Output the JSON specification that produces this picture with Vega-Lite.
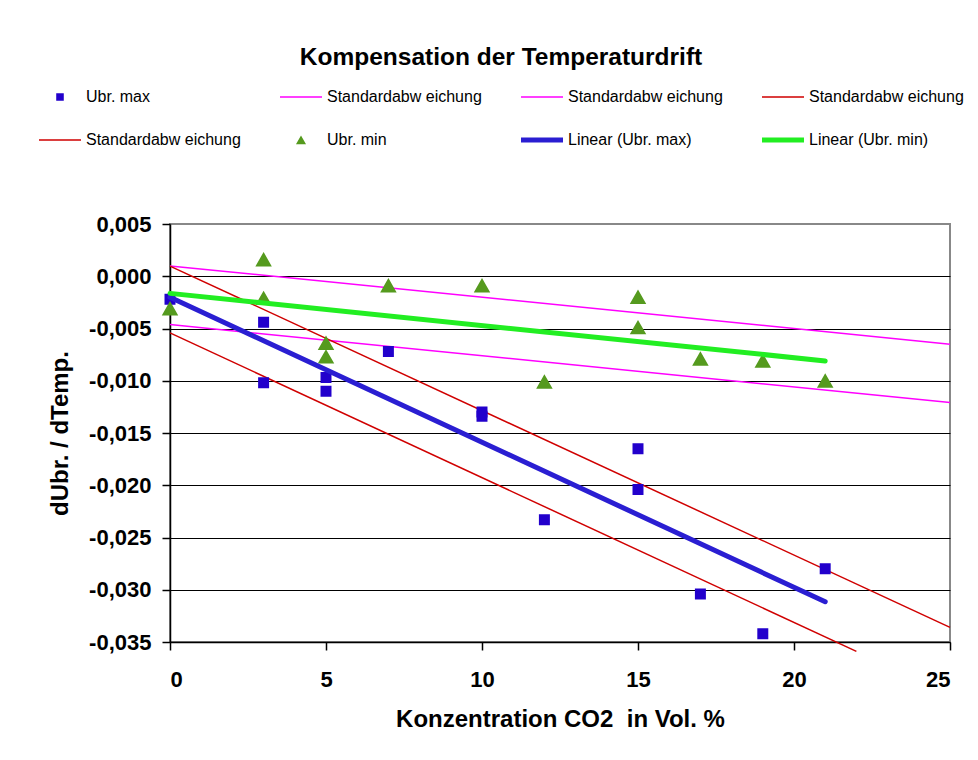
{
  "$schema": "https://vega.github.io/schema/vega-lite/v6.json",
  "autosize": {"type": "none"},
  "width": 780,
  "height": 418,
  "padding": {"left": 170, "top": 224, "right": 28, "bottom": 118},
  "background": "#ffffff",
  "title": {
    "text": "Kompensation der Temperaturdrift",
    "font": "Liberation Sans",
    "fontSize": 24.5,
    "fontWeight": "bold",
    "color": "#000000",
    "anchor": "middle",
    "frame": "group",
    "dx": -59,
    "offset": 6
  },
  "datasets": {
    "ubr": [
      {"co2": 0, "drift": -0.0022, "reihe": "max"},
      {"co2": 3, "drift": -0.0044, "reihe": "max"},
      {"co2": 3, "drift": -0.0102, "reihe": "max"},
      {"co2": 5, "drift": -0.0097, "reihe": "max"},
      {"co2": 5, "drift": -0.0110, "reihe": "max"},
      {"co2": 7, "drift": -0.0072, "reihe": "max"},
      {"co2": 10, "drift": -0.0130, "reihe": "max"},
      {"co2": 10, "drift": -0.0134, "reihe": "max"},
      {"co2": 12, "drift": -0.0233, "reihe": "max"},
      {"co2": 15, "drift": -0.0165, "reihe": "max"},
      {"co2": 15, "drift": -0.0204, "reihe": "max"},
      {"co2": 17, "drift": -0.0304, "reihe": "max"},
      {"co2": 19, "drift": -0.0342, "reihe": "max"},
      {"co2": 21, "drift": -0.0280, "reihe": "max"},
      {"co2": 0, "drift": -0.0031, "reihe": "min"},
      {"co2": 3, "drift": 0.0016, "reihe": "min"},
      {"co2": 3, "drift": -0.0021, "reihe": "min"},
      {"co2": 5, "drift": -0.0064, "reihe": "min"},
      {"co2": 5, "drift": -0.0077, "reihe": "min"},
      {"co2": 7, "drift": -0.0009, "reihe": "min"},
      {"co2": 10, "drift": -0.0009, "reihe": "min"},
      {"co2": 12, "drift": -0.0101, "reihe": "min"},
      {"co2": 15, "drift": -0.0020, "reihe": "min"},
      {"co2": 15, "drift": -0.0049, "reihe": "min"},
      {"co2": 17, "drift": -0.0079, "reihe": "min"},
      {"co2": 19, "drift": -0.0081, "reihe": "min"},
      {"co2": 21, "drift": -0.0100, "reihe": "min"}
    ],
    "stdabw_min": [
      {"co2": 0, "drift": 0.00099, "linie": "oben"},
      {"co2": 25, "drift": -0.0065, "linie": "oben"},
      {"co2": 0, "drift": -0.00462, "linie": "unten"},
      {"co2": 25, "drift": -0.01209, "linie": "unten"}
    ],
    "stdabw_max": [
      {"co2": 0, "drift": 0.00097, "linie": "oben"},
      {"co2": 25, "drift": -0.0336, "linie": "oben"},
      {"co2": 0, "drift": -0.00542, "linie": "unten"},
      {"co2": 22, "drift": -0.0359, "linie": "unten"}
    ],
    "trend_max": [
      {"co2": 0, "drift": -0.0020},
      {"co2": 21, "drift": -0.03115}
    ],
    "trend_min": [
      {"co2": 0, "drift": -0.00164},
      {"co2": 21, "drift": -0.0081}
    ]
  },
  "encoding": {
    "x": {
      "field": "co2",
      "type": "quantitative",
      "scale": {"domain": [0, 25], "nice": false, "zero": false},
      "axis": {
        "title": "Konzentration CO2\u00a0 in Vol. %",
        "values": [0, 5, 10, 15, 20, 25],
        "grid": false,
        "labelPadding": 19,
        "titlePadding": 17
      }
    },
    "y": {
      "field": "drift",
      "type": "quantitative",
      "scale": {"domain": [-0.035, 0.005], "nice": false, "zero": false},
      "axis": {
        "title": "dUbr. / dTemp.",
        "values": [-0.035, -0.03, -0.025, -0.02, -0.015, -0.01, -0.005, 0, 0.005],
        "labelExpr": "replace(replace(format(datum.value, '.3f'), '.', ','), '\u2212', '-')",
        "grid": true,
        "gridColor": {"condition": {"test": "datum.value > 0.004", "value": "#888888"}, "value": "#000000"},
        "gridWidth": 1.2,
        "labelPadding": 11,
        "titlePadding": 16
      }
    }
  },
  "layer": [
    {
      "data": {"name": "stdabw_min"},
      "mark": {"type": "line", "color": "#ff00ff", "strokeWidth": 1.5, "clip": false},
      "encoding": {"detail": {"field": "linie"}}
    },
    {
      "data": {"name": "stdabw_max"},
      "mark": {"type": "line", "color": "#d00000", "strokeWidth": 1.5, "clip": false},
      "encoding": {"detail": {"field": "linie"}}
    },
    {
      "data": {"name": "ubr"},
      "mark": {"type": "point", "filled": true, "opacity": 1, "strokeWidth": 0},
      "encoding": {
        "color": {
          "field": "reihe",
          "type": "nominal",
          "scale": {
            "domain": ["max", "sd1", "sd2", "sd3", "sd4", "min", "lin_max", "lin_min"],
            "range": ["#2200cc", "#ff00ff", "#ff00ff", "#d00000", "#d00000", "#559a1e", "#2a1ed2", "#22ee22"]
          },
          "legend": {
            "orient": "none",
            "legendX": -131,
            "legendY": -148,
            "direction": "horizontal",
            "columns": 4,
            "gridAlign": "all",
            "columnPadding": 39,
            "rowPadding": 1,
            "padding": 0,
            "title": null,
            "symbolSize": 1764,
            "symbolStrokeWidth": 0,
            "labelFont": "Liberation Sans",
            "labelFontSize": 16,
            "labelColor": "#000000",
            "labelOffset": 5,
            "labelLimit": 300,
            "labelExpr": "{'max': 'Ubr. max', 'sd1': 'Standardabw eichung', 'sd2': 'Standardabw eichung', 'sd3': 'Standardabw eichung', 'sd4': 'Standardabw eichung', 'min': 'Ubr. min', 'lin_max': 'Linear (Ubr. max)', 'lin_min': 'Linear (Ubr. min)'}[datum.value]"
          }
        },
        "shape": {
          "field": "reihe",
          "type": "nominal",
          "scale": {
            "domain": ["max", "sd1", "sd2", "sd3", "sd4", "min", "lin_max", "lin_min"],
            "range": [
              "M-0.18,-0.18H0.18V0.18H-0.18Z M-1,-1L-1,-1 M1,1L1,1",
              "M-1,-0.036H1V0.036H-1Z M-1,-1L-1,-1 M1,1L1,1",
              "M-1,-0.036H1V0.036H-1Z M-1,-1L-1,-1 M1,1L1,1",
              "M-1,-0.036H1V0.036H-1Z M-1,-1L-1,-1 M1,1L1,1",
              "M-1,-0.036H1V0.036H-1Z M-1,-1L-1,-1 M1,1L1,1",
              "M0,-0.22L0.24,0.2L-0.24,0.2Z M-1,-1L-1,-1 M1,1L1,1",
              "M-1,-0.12H1V0.12H-1Z M-1,-1L-1,-1 M1,1L1,1",
              "M-1,-0.12H1V0.12H-1Z M-1,-1L-1,-1 M1,1L1,1"
            ]
          }
        },
        "size": {"condition": {"test": "datum.reihe === 'max'", "value": 3721}, "value": 4727}
      }
    },
    {
      "data": {"name": "trend_max"},
      "mark": {"type": "line", "color": "#2a1ed2", "strokeWidth": 5, "strokeCap": "round"},
      "encoding": {}
    },
    {
      "data": {"name": "trend_min"},
      "mark": {"type": "line", "color": "#22ee22", "strokeWidth": 5, "strokeCap": "round"},
      "encoding": {}
    }
  ],
  "config": {
    "font": "Liberation Sans",
    "view": {"stroke": "#888888", "strokeWidth": 2},
    "axis": {
      "labelFont": "Liberation Sans",
      "labelFontWeight": "bold",
      "labelFontSize": 22,
      "labelColor": "#000000",
      "titleFont": "Liberation Sans",
      "titleFontWeight": "bold",
      "titleFontSize": 24,
      "titleColor": "#000000",
      "domainColor": "#000000",
      "domainWidth": 1.5,
      "tickColor": "#000000",
      "tickWidth": 1.5,
      "tickSize": 8
    }
  }
}
